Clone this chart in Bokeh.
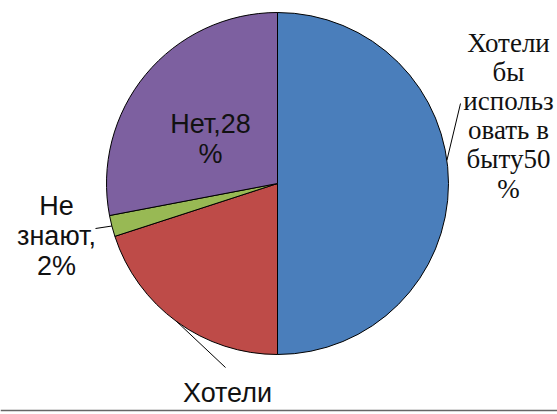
import numpy as np
from bokeh.plotting import figure
from bokeh.models import Range1d, ColumnDataSource
from bokeh.core.properties import value
from bokeh.embed import file_html
from bokeh.resources import INLINE

# ---- data ----
categories = ["Хотели бы использовать в быту", "Хотели бы в", "Не знают", "Нет"]
values = [50, 20, 2, 28]
colors = ["#4A7EBB", "#BE4B48", "#98B954", "#7D60A0"]

# label texts (as shown, wrapped)
label_blue = ["Хотели", "бы", "использ", "овать в", "быту50", "%"]
label_red = ["Хотели", "бы в"]
label_green = ["Не", "знают,", "2%"]
label_purple = ["Нет,28", "%"]

# ---- layout (page pixel coordinates, y downward) ----
W, H = 557, 414
cx, cy_page, R = 277, 183, 171

def yd(page_y):
    return H - page_y

p = figure(width=W, height=H, output_backend="svg", toolbar_location=None,
           x_range=Range1d(0, W), y_range=Range1d(0, H),
           min_border=0)
p.axis.visible = False
p.grid.visible = False
p.outline_line_color = None
p.background_fill_color = "white"
p.border_fill_color = "white"

total = float(sum(values))
cum = np.concatenate([[0.0], np.cumsum(values)]) / total
start = np.pi / 2 - 2 * np.pi * cum[:-1]
end = np.pi / 2 - 2 * np.pi * cum[1:]
src = ColumnDataSource(dict(cat=categories, val=values, color=colors,
                            start=start, end=end))
p.wedge(x=cx, y=yd(cy_page), radius=R, start_angle="start", end_angle="end",
        direction="clock", fill_color="color", line_color="black",
        line_width=1, source=src)

mid = (start + end) / 2

def edge(angle):
    return cx + R * np.cos(angle), yd(cy_page) + R * np.sin(angle)

leader_angles = [np.deg2rad(7.8), mid[1], mid[2]]
leader_ends = [(460, 103), (225, 367), (95, 228)]
for a, (ex, ey) in zip(leader_angles, leader_ends):
    sx, sy = edge(a)
    p.line([sx, ex], [sy, yd(ey)], line_color="black", line_width=1)

def draw_lines(lines, x, first_baseline, spacing, font, size):
    ys = [yd(first_baseline + i * spacing) for i in range(len(lines))]
    p.text(x=[x] * len(lines), y=ys, text=lines, text_align="center",
           text_baseline="alphabetic", text_font=value(font),
           text_font_size=size, text_color="#111111")

draw_lines(label_blue, 508, 42, 29.2, "Liberation Serif", "27px")
draw_lines(label_purple, 210, 123, 30, "Liberation Sans", "27px")
draw_lines(label_green, 56, 205, 30, "Liberation Sans", "27px")
draw_lines(label_red, 227, 392, 30, "Liberation Sans", "27px")

# white strip under the bottom frame line (hides the rest of the cut label)
p.quad(left=0, right=W, bottom=0, top=yd(410.5), fill_color="white",
       line_color=None)
# bottom frame line
p.line([0, W], [yd(410), yd(410)], line_color="#666666", line_width=1.5)

open("out.html", "w").write(file_html(p, INLINE))
